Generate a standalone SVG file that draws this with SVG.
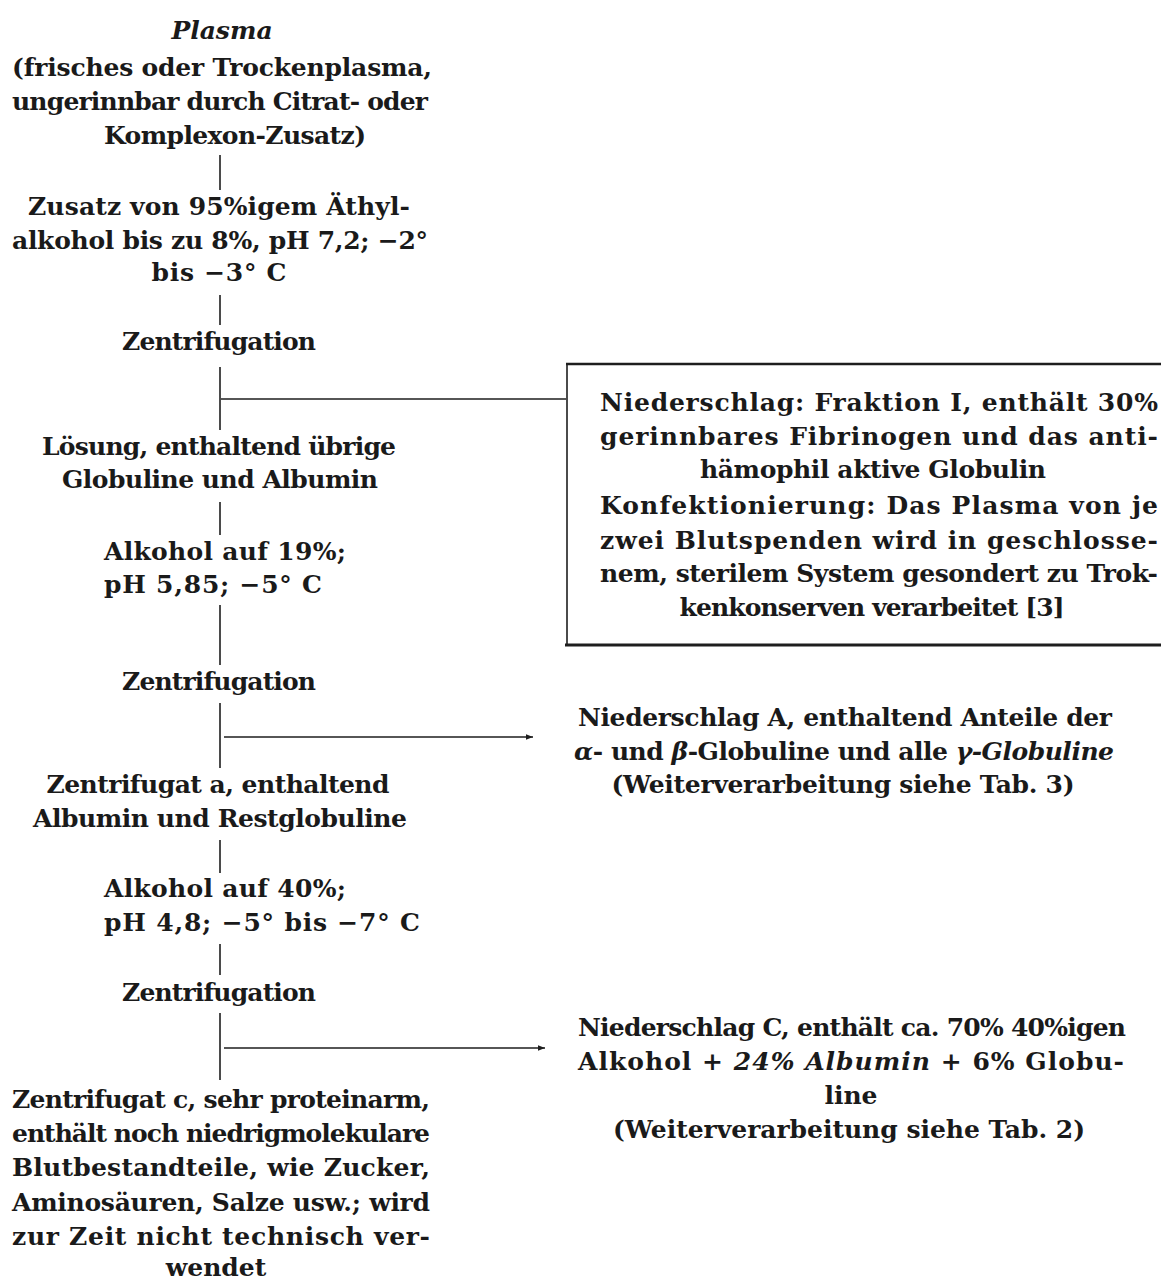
<svg xmlns="http://www.w3.org/2000/svg" width="1161" height="1282" viewBox="0 0 1161 1282">
<style>
.t{font-family:"DejaVu Serif","Liberation Serif",serif;font-weight:bold;font-size:25px;fill:#1a1a1a}
.c{text-anchor:middle}
.i{font-style:italic}
.ln{stroke:#1e1e1e;stroke-width:1.6;fill:none}
.bx{stroke:#1e1e1e;fill:none}
</style>
<defs>
<marker id="ah" viewBox="0 0 10 10" refX="10" refY="5" markerWidth="9" markerHeight="7" markerUnits="userSpaceOnUse" orient="auto">
<path d="M0,1 L10,5 L0,9 Z" fill="#1e1e1e"/>
</marker>
</defs>
<rect width="1161" height="1282" fill="#ffffff"/>

<g id="connectors">
<line class="ln" x1="220" y1="155" x2="220" y2="190"/>
<line class="ln" x1="220" y1="295" x2="220" y2="325"/>
<line class="ln" x1="220" y1="367" x2="220" y2="430"/>
<line class="ln" x1="221" y1="399" x2="566" y2="399"/>
<line class="ln" x1="220" y1="502" x2="220" y2="535"/>
<line class="ln" x1="220" y1="605" x2="220" y2="665"/>
<line class="ln" x1="220" y1="703" x2="220" y2="768"/>
<line class="ln" x1="224" y1="737" x2="533" y2="737" marker-end="url(#ah)"/>
<line class="ln" x1="220" y1="840" x2="220" y2="873"/>
<line class="ln" x1="220" y1="944" x2="220" y2="975"/>
<line class="ln" x1="220" y1="1013" x2="220" y2="1080"/>
<line class="ln" x1="224" y1="1048" x2="545" y2="1048" marker-end="url(#ah)"/>
</g>

<g id="n-plasma">
<text class="t i c" x="222" y="39">Plasma</text>
<text class="t" x="12" y="76" textLength="420">(frisches oder Trockenplasma,</text>
<text class="t" x="12" y="110" textLength="416">ungerinnbar durch Citrat- oder</text>
<text class="t c" x="235" y="144" textLength="262">Komplexon-Zusatz)</text>
</g>

<g id="n-zusatz">
<text class="t c" x="219" y="215" textLength="382">Zusatz von 95%igem Äthyl-</text>
<text class="t" x="12" y="249" textLength="416">alkohol bis zu 8%, pH 7,2; −2°</text>
<text class="t c" x="219" y="281" textLength="135">bis −3° C</text>
</g>

<g id="n-zentri1">
<text class="t c" x="219" y="350" textLength="194">Zentrifugation</text>
</g>

<g id="n-fraktion1">
<line class="bx" x1="566" y1="364" x2="1161" y2="364" stroke-width="2.6"/>
<line class="bx" x1="567" y1="364" x2="567" y2="646" stroke-width="1.6"/>
<line class="bx" x1="565" y1="645" x2="1161" y2="645" stroke-width="3"/>
<text class="t" x="600" y="411" textLength="558">Niederschlag: Fraktion I, enthält 30%</text>
<text class="t" x="600" y="445" textLength="558">gerinnbares Fibrinogen und das anti-</text>
<text class="t c" x="873" y="478" textLength="346">hämophil aktive Globulin</text>
<text class="t" x="600" y="514" textLength="558">Konfektionierung: Das Plasma von je</text>
<text class="t" x="600" y="549" textLength="558">zwei Blutspenden wird in geschlosse-</text>
<text class="t" x="600" y="582" textLength="558">nem, sterilem System gesondert zu Trok-</text>
<text class="t c" x="872" y="616" textLength="385">kenkonserven verarbeitet [3]</text>
</g>

<g id="n-loesung">
<text class="t c" x="219" y="455" textLength="354">Lösung, enthaltend übrige</text>
<text class="t c" x="220" y="488" textLength="316">Globuline und Albumin</text>
</g>

<g id="n-alk19">
<text class="t" x="104" y="560" textLength="242">Alkohol auf 19%;</text>
<text class="t" x="104" y="593" textLength="218">pH 5,85; −5° C</text>
</g>

<g id="n-zentri2">
<text class="t c" x="219" y="690" textLength="194">Zentrifugation</text>
</g>

<g id="n-niederA">
<text class="t c" x="845" y="726" textLength="534">Niederschlag A, enthaltend Anteile der</text>
<text class="t c" x="844" y="760" textLength="540"><tspan class="i">α</tspan>- und <tspan class="i">β</tspan>-Globuline und alle <tspan class="i">γ-Globuline</tspan></text>
<text class="t c" x="843" y="793" textLength="463">(Weiterverarbeitung siehe Tab. 3)</text>
</g>

<g id="n-zentrifugatA">
<text class="t c" x="218" y="793" textLength="343">Zentrifugat a, enthaltend</text>
<text class="t c" x="220" y="827" textLength="374">Albumin und Restglobuline</text>
</g>

<g id="n-alk40">
<text class="t" x="104" y="897" textLength="242">Alkohol auf 40%;</text>
<text class="t" x="104" y="931" textLength="316">pH 4,8; −5° bis −7° C</text>
</g>

<g id="n-zentri3">
<text class="t c" x="219" y="1001" textLength="194">Zentrifugation</text>
</g>

<g id="n-niederC">
<text class="t" x="578" y="1036" textLength="548">Niederschlag C, enthält ca. 70% 40%igen</text>
<text class="t" x="578" y="1070" textLength="546">Alkohol + <tspan class="i">24% Albumin</tspan> + 6% Globu-</text>
<text class="t c" x="851" y="1104">line</text>
<text class="t c" x="849" y="1138" textLength="472">(Weiterverarbeitung siehe Tab. 2)</text>
</g>

<g id="n-zentrifugatC">
<text class="t" x="12" y="1108" textLength="418">Zentrifugat c, sehr proteinarm,</text>
<text class="t" x="12" y="1142" textLength="418">enthält noch niedrigmolekulare</text>
<text class="t" x="12" y="1176" textLength="418">Blutbestandteile, wie Zucker,</text>
<text class="t" x="12" y="1211" textLength="418">Aminosäuren, Salze usw.; wird</text>
<text class="t" x="12" y="1245" textLength="418">zur Zeit nicht technisch ver-</text>
<text class="t c" x="216" y="1276">wendet</text>
</g>
</svg>
